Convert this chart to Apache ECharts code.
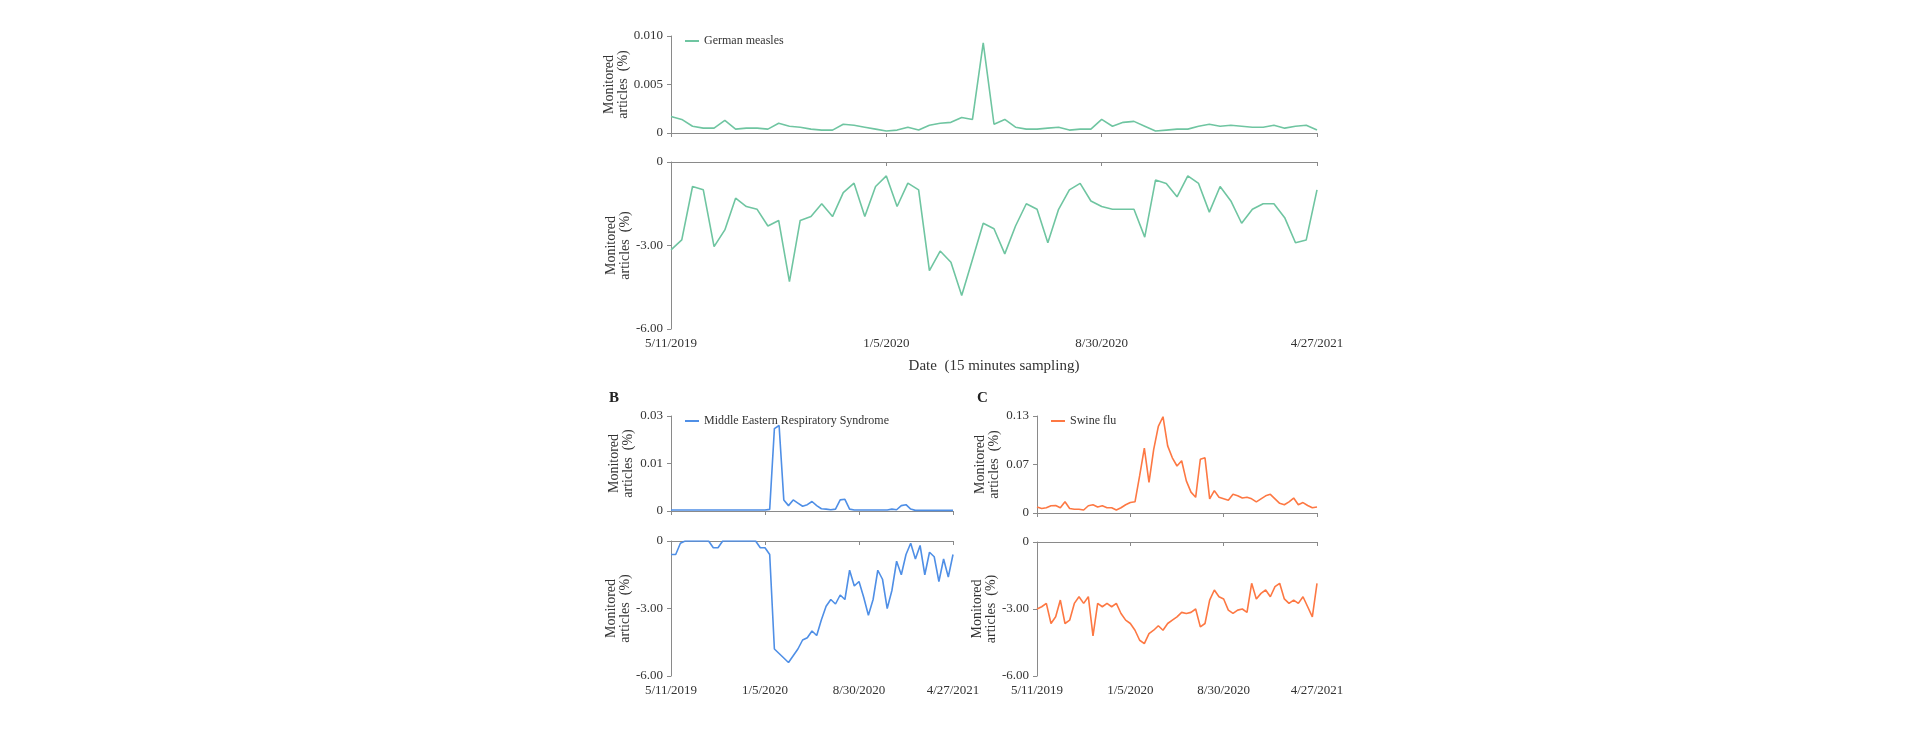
<!DOCTYPE html>
<html>
<head>
<meta charset="utf-8">
<script src="https://cdn.jsdelivr.net/npm/echarts@6/dist/echarts.min.js"></script>
<style>html,body{margin:0;background:#fff}#main{width:1920px;height:740px}</style>
</head>
<body>
<div id="main"></div>
<script>
// x轴刻度标签（每20个点一个）
var dateLabels = ['5/11/2019', '1/5/2020', '8/30/2020', '4/27/2021'];
var smallTicksB = ['0', '0.01', '0.03'];
var smallTicksC = ['0', '0.07', '0.13'];

// German measles
var measlesTop = [.0017,.0014,.0007,.0005,.0005,.0013,.0004,.0005,.0005,.0004,.001,.0007,.0006,.0004,.0003,.0003,.0009,.0008,.0006,.0004,
  .0002,.0003,.0006,.0003,.0008,.001,.0011,.0016,.0014,.0093,.0009,.0014,.0006,.0004,.0004,.0005,.0006,.0003,.0004,.0004,
  .0014,.0007,.0011,.0012,.0007,.0002,.0003,.0004,.0004,.0007,.0009,.0007,.0008,.0007,.0006,.0006,.0008,.0005,.0007,.0008,.0003];
var measlesLow = [-3.16,-2.8,-0.88,-1.0,-3.04,-2.44,-1.3,-1.6,-1.7,-2.3,-2.1,-4.3,-2.1,-1.96,-1.5,-1.96,-1.1,-0.76,-1.96,-0.88,
  -0.5,-1.6,-0.76,-1.0,-3.9,-3.2,-3.6,-4.8,-3.5,-2.2,-2.4,-3.3,-2.3,-1.5,-1.7,-2.9,-1.7,-1.0,-0.77,-1.4,
  -1.6,-1.7,-1.7,-1.7,-2.7,-0.65,-0.77,-1.25,-0.5,-0.77,-1.8,-0.88,-1.4,-2.2,-1.7,-1.5,-1.5,-2.0,-2.9,-2.8,-1.0];

// Middle Eastern Respiratory Syndrome
var mersTop = [.0003,.0003,.0003,.0003,.0003,.0003,.0003,.0003,.0003,.0003,.0003,.0003,.0003,.0003,.0003,.0003,.0003,.0003,.0003,.0003,
  .0003,.0005,.026,.027,.0035,.0017,.0035,.0025,.0015,.002,.003,.0017,.0007,.0006,.0004,.0006,.0035,.0037,.0006,.0003,
  .0003,.0003,.0003,.0003,.0003,.0003,.0003,.0006,.0004,.0017,.002,.0006,.0002,.0002,.0002,.0002,.0002,.0002,.0002,.0002,.0002];
var mersLow = [-0.6,-0.6,-0.1,0,0,0,0,0,0,-0.3,-0.3,0,0,0,0,0,0,0,0,-0.3,
  -0.3,-0.6,-4.8,-5.0,-5.2,-5.4,-5.1,-4.8,-4.4,-4.3,-4.0,-4.2,-3.5,-2.9,-2.6,-2.8,-2.4,-2.6,-1.3,-2.0,
  -1.8,-2.5,-3.3,-2.6,-1.3,-1.7,-3.0,-2.2,-0.9,-1.5,-0.6,-0.1,-0.8,-0.2,-1.5,-0.5,-0.7,-1.8,-0.8,-1.6,-0.6];

// Swine flu
var swineTop = [.008,.006,.007,.0097,.01,.007,.015,.006,.005,.005,.004,.0097,.011,.008,.0097,.007,.007,.004,.007,.011,
  .014,.015,.05,.087,.041,.085,.116,.129,.09,.074,.063,.07,.043,.028,.021,.072,.074,.019,.03,.021,
  .019,.017,.025,.023,.02,.021,.019,.015,.019,.023,.025,.019,.013,.011,.015,.02,.011,.014,.01,.007,.008];
var swineLow = [-3.0,-2.9,-2.75,-3.65,-3.35,-2.6,-3.65,-3.5,-2.75,-2.45,-2.75,-2.45,-4.2,-2.75,-2.9,-2.75,-2.9,-2.75,-3.2,-3.5,
  -3.65,-3.95,-4.4,-4.55,-4.1,-3.95,-3.75,-3.95,-3.65,-3.5,-3.35,-3.15,-3.2,-3.15,-3.0,-3.8,-3.65,-2.6,-2.15,-2.45,
  -2.55,-3.05,-3.2,-3.05,-3.0,-3.15,-1.85,-2.55,-2.3,-2.15,-2.45,-2.0,-1.85,-2.55,-2.75,-2.6,-2.75,-2.45,-2.9,-3.35,-1.85];

var green = '#6fc5a1', blue = '#4f8fe6', orange = '#fd7843';
var font = 'Liberation Serif';
var cats = [];
for (var i = 0; i < measlesTop.length; i++) cats.push(i);

var grids = [
  {left: 671, top: 36, width: 646, height: 97},
  {left: 671, top: 162, width: 646, height: 167},
  {left: 671, top: 416, width: 282, height: 95},
  {left: 671, top: 541, width: 282, height: 135},
  {left: 1037, top: 416, width: 280, height: 97},
  {left: 1037, top: 542, width: 280, height: 134}
];

function xAx(idx, showLabel, extra) {
  var o = {
    type: 'category', gridIndex: idx, data: cats, boundaryGap: false,
    axisLine: {lineStyle: {color: '#8a8a8a'}},
    axisTick: {show: true, interval: 19, length: 4, lineStyle: {color: '#8a8a8a'}},
    axisLabel: {show: showLabel, interval: 19, color: '#333', fontFamily: font, fontSize: 13, margin: 8,
      formatter: function (v) { return dateLabels[Math.round(v / 20)]; }},
    offset: showLabel ? 0 : 4
  };
  for (var k in extra) o[k] = extra[k];
  return o;
}
function yAx(idx, max, interval, fmt) {
  return {
    type: 'value', gridIndex: idx, min: max > 0 ? 0 : -6, max: max > 0 ? max : 0, interval: interval,
    splitLine: {show: false},
    axisLine: {show: true, lineStyle: {color: '#8a8a8a'}},
    axisTick: {show: true, length: 4, lineStyle: {color: '#8a8a8a'}},
    axisLabel: {color: '#333', fontFamily: font, fontSize: 13, formatter: fmt},
    name: 'Monitored\narticles  (%)', nameLocation: 'middle', nameRotate: 90, nameGap: 36,
    nameTextStyle: {color: '#333', fontFamily: font, fontSize: 14, lineHeight: 14}
  };
}
var lowFmt = function (v) { return v === 0 ? '0' : v.toFixed(2); };

function line(name, xi, data, color) {
  return {name: name, type: 'line', xAxisIndex: xi, yAxisIndex: xi, data: data, showSymbol: false,
    lineStyle: {color: color, width: 1.6}, itemStyle: {color: color}};
}
function leg(name, left, top) {
  return {data: [name], left: left, top: top, icon: 'rect', itemWidth: 14, itemHeight: 2, itemGap: 6,
    textStyle: {color: '#333', fontFamily: font, fontSize: 12}};
}

var chart = echarts.init(document.getElementById('main'));
chart.setOption({
  backgroundColor: '#fff',
  animation: false,
  title: [
    {text: 'B', left: 604, top: 386, textStyle: {fontFamily: font, fontSize: 15, fontWeight: 'bold', color: '#222'}},
    {text: 'C', left: 972, top: 386, textStyle: {fontFamily: font, fontSize: 15, fontWeight: 'bold', color: '#222'}}
  ],
  legend: [leg('German measles', 680, 30), leg('Middle Eastern Respiratory Syndrome', 680, 410), leg('Swine flu', 1046, 410)],
  grid: grids,
  xAxis: [
    xAx(0, false), xAx(1, true, {name: 'Date  (15 minutes sampling)', nameLocation: 'middle', nameGap: 30,
      nameTextStyle: {color: '#333', fontFamily: font, fontSize: 15}}),
    xAx(2, false), xAx(3, true), xAx(4, false), xAx(5, true)
  ],
  yAxis: [
    yAx(0, 0.01, 0.005, function (v) { return v === 0 ? '0' : v.toFixed(3); }),
    yAx(1, -1, 3, lowFmt),
    yAx(2, 0.03, 0.015, function (v) { return smallTicksB[Math.round(v / 0.015)]; }),
    yAx(3, -1, 3, lowFmt),
    yAx(4, 0.13, 0.065, function (v) { return smallTicksC[Math.round(v / 0.065)]; }),
    yAx(5, -1, 3, lowFmt)
  ],
  series: [
    line('German measles', 0, measlesTop, green),
    line('German measles (low)', 1, measlesLow, green),
    line('Middle Eastern Respiratory Syndrome', 2, mersTop, blue),
    line('MERS (low)', 3, mersLow, blue),
    line('Swine flu', 4, swineTop, orange),
    line('Swine flu (low)', 5, swineLow, orange)
  ]
});
</script>
</body>
</html>
